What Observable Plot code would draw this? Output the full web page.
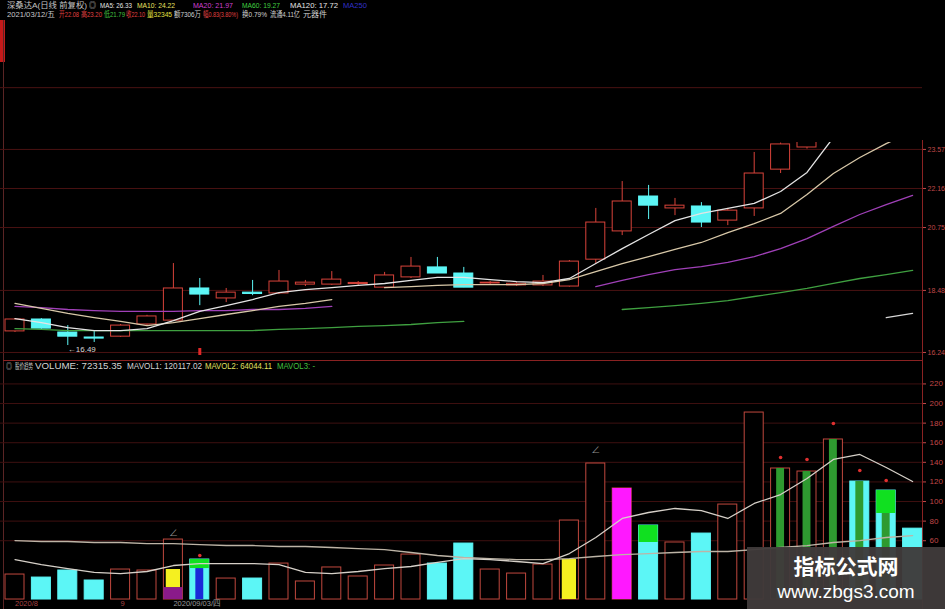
<!DOCTYPE html>
<html><head><meta charset="utf-8">
<script src="https://cdn.jsdelivr.net/npm/d3@7"></script>
<script src="https://cdn.jsdelivr.net/npm/@observablehq/plot@0.6"></script>
<style>
html,body{margin:0;padding:0;background:#000;}
#wrap{position:relative;width:945px;height:609px;overflow:hidden;background:#000;font-family:"Liberation Sans",Arial,"Noto Sans CJK SC",sans-serif;}
#wrap svg{position:absolute;left:0;top:0;overflow:visible;}
.t{position:absolute;white-space:nowrap;line-height:1;transform-origin:0 50%;}
.h1{font-size:7.5px;top:2px;}
.h2{font-size:7.5px;top:11px;}
.h3{font-size:8.5px;top:362px;}
.ln{position:absolute;}
#wm{position:absolute;left:747px;top:547px;width:198px;height:62px;background:rgba(64,58,58,0.96);color:#fff;text-align:center;z-index:10;font-family:"Noto Sans CJK SC","Liberation Sans",sans-serif;}
</style></head><body>
<div id="wrap">
  <div class="ln" style="left:0;top:20px;width:5px;height:42px;background:#c41a1a"></div>
  <div class="ln" style="left:3px;top:20px;width:1px;height:589px;background:#5a2424"></div>
  <div class="ln" style="left:922px;top:140px;width:1px;height:469px;background:#8a2222"></div>
  <div class="ln" style="left:3px;top:360px;width:920px;height:1px;background:#8a2222"></div>

  <span class="t h1" data-w="80" style="left:7px;color:#c4c4c4">深桑达A(日线 前复权)</span>
  <span class="t h1" data-w="7" style="left:89px;color:#c4c4c4">◎</span>
  <span class="t h1" data-w="32" style="left:100px;color:#e4e4e4">MA5: 26.33</span>
  <span class="t h1" data-w="38" style="left:137px;color:#e8e060">MA10: 24.22</span>
  <span class="t h1" data-w="40" style="left:193px;color:#d040d0">MA20: 21.97</span>
  <span class="t h1" data-w="38" style="left:242px;color:#40d040">MA60: 19.27</span>
  <span class="t h1" data-w="48" style="left:290px;color:#e4e4e4">MA120: 17.72</span>
  <span class="t h1" data-w="24" style="left:343px;color:#3030c8">MA250</span>

  <span class="t h2" data-w="48" style="left:7px;color:#c8c8c8">2021/03/12/五</span>
  <span class="t h2" data-w="20" style="left:59px;color:#e04040">开22.08</span>
  <span class="t h2" data-w="21" style="left:81px;color:#e04040">高23.20</span>
  <span class="t h2" data-w="21" style="left:104px;color:#40c040">低21.79</span>
  <span class="t h2" data-w="19" style="left:126px;color:#e04040">收22.10</span>
  <span class="t h2" data-w="25" style="left:147px;color:#e0e040">量32345</span>
  <span class="t h2" data-w="27" style="left:174px;color:#d0d0d0">额7306万</span>
  <span class="t h2" data-w="35" style="left:203px;color:#e04040">幅0.83(3.80%)</span>
  <span class="t h2" data-w="25" style="left:242px;color:#d0d0d0">换0.79%</span>
  <span class="t h2" data-w="30" style="left:270px;color:#d0d0d0">流通4.11亿</span>
  <span class="t h2" data-w="24" style="left:303px;color:#d0d0d0">元器件</span>

  <span class="t h3" data-w="6" style="left:6px;color:#c8c8c8">◎</span>
  <span class="t h3" data-w="18" style="left:15px;color:#c8c8c8">股价趋势</span>
  <span class="t h3" data-w="87" style="left:35px;color:#d4d4d4">VOLUME: 72315.35</span>
  <span class="t h3" data-w="75" style="left:127px;color:#d4d4d4">MAVOL1: 120117.02</span>
  <span class="t h3" data-w="67" style="left:205px;color:#e0e060">MAVOL2: 64044.11</span>
  <span class="t h3" data-w="38" style="left:277px;color:#40c040">MAVOL3: -</span>

  <div id="wm">
    <div style="font-size:21px;font-weight:bold;line-height:21px;margin-top:8px;">指标公式网</div>
    <div style="font-size:19px;line-height:19px;margin-top:6px;font-family:'Liberation Sans',Arial,sans-serif;">www.zbgs3.com</div>
  </div>
</div>
<script>
// ---------- data ----------
const opens  = [17.00,17.43,16.96,16.78,16.81,17.25,17.39,18.55,18.19,18.40,18.37,18.69,18.69,18.71,18.58,18.95,19.31,19.09,18.73,18.66,18.66,18.62,19.59,20.61,21.87,21.44,21.51,21.00,21.44,22.84,23.64,25.00,27.20,27.60,27.00];
const highs  = [17.46,17.46,17.21,17.03,17.25,17.58,19.45,18.91,18.55,18.84,19.20,18.84,19.16,18.80,19.13,19.67,19.67,19.31,18.80,18.76,19.02,19.56,21.44,22.41,22.27,21.80,21.65,21.44,23.46,23.80,25.20,27.10,27.80,28.00,27.30];
const lows   = [16.96,17.07,16.49,16.60,16.78,17.21,17.36,17.93,18.04,18.29,18.33,18.62,18.66,18.66,18.55,18.91,19.09,18.58,18.69,18.62,18.62,18.60,19.45,20.46,21.04,21.18,20.75,20.82,21.15,22.70,23.58,24.80,26.20,26.60,26.20];
const closes = [17.43,17.10,16.81,16.74,17.21,17.54,18.55,18.33,18.40,18.35,18.80,18.76,18.87,18.75,19.02,19.34,19.09,18.58,18.76,18.72,18.80,19.52,20.93,21.69,21.54,21.54,20.93,21.36,22.70,23.75,24.90,26.80,26.50,26.90,26.60];

const ma5   = [17.46,17.32,17.14,17.03,17.03,17.10,17.39,17.72,17.93,18.15,18.40,18.51,18.58,18.66,18.73,18.84,18.95,18.95,18.87,18.80,18.76,18.91,19.45,19.99,20.50,21.00,21.26,21.44,21.62,22.05,22.74,24.00,25.00,25.70,26.33];
const ma10  = [18.01,17.83,17.65,17.50,17.36,17.21,17.32,17.46,17.61,17.75,17.90,18.01,18.15,null,18.58,18.62,18.66,18.69,18.69,18.69,18.73,18.87,19.16,19.45,19.70,19.96,20.21,20.57,20.89,21.26,21.94,22.70,23.28,23.78,24.22];
const ma20  = [17.90,17.86,17.79,17.75,17.72,17.72,17.72,17.75,17.75,17.79,17.79,17.83,17.90,null,null,null,null,null,null,null,null,null,18.62,18.84,19.05,19.23,19.34,19.49,19.70,19.99,20.35,20.79,21.22,21.58,21.91];
const ma60  = [17.10,17.07,17.03,17.03,17.03,17.03,17.03,17.03,17.03,17.03,17.07,17.10,17.14,17.18,17.21,17.25,17.32,17.36,null,null,null,null,null,17.79,17.86,17.93,18.01,18.11,18.26,18.40,18.55,18.73,18.91,19.05,19.20];
const ma120 = [null,null,null,null,null,null,null,null,null,null,null,null,null,null,null,null,null,null,null,null,null,null,null,null,null,null,null,null,null,null,null,null,null,17.50,17.65];

const volumes = [25.5,22.4,29.6,19.4,30.6,29.6,61.2,40.8,21.4,21.4,36.7,18.4,32.7,23.5,34.7,45.9,36.7,57.1,30.6,26.5,35.7,80.6,138.8,113.3,75.5,58.2,67.3,96.9,190.8,133.7,130.6,163.3,120.4,111.2,72.3];
const mavol1 = [40.8,35.7,31.6,27.6,26.5,28.6,34.7,36.7,36.7,36.7,35.7,27.6,26.5,28.6,31.6,33.7,37.8,41.8,40.8,38.8,36.7,46.9,63.3,82.7,88.8,92.9,90.8,82.7,98.0,107.1,123.5,142.9,148.0,134.7,120.4];
const mavol2 = [60.2,59.2,59.2,58.2,58.2,57.1,57.1,56.1,55.1,55.1,54.1,54.1,53.1,52.0,51.0,48.0,44.9,42.9,41.8,40.8,40.8,41.8,43.9,45.9,46.9,48.0,49.0,49.0,51.0,53.1,55.1,58.2,60.2,63.3,65.3];

const yellowFills  = [{i:6, lo:12.2, hi:30.6}, {i:21, lo:0, hi:40.8}];
const purpleFills  = [{i:6, lo:0, hi:12.2}];
const magentaFills = [{i:23, lo:0, hi:113.3}];
const greenTops    = [{i:7, lo:31.6, hi:40.8}, {i:24, lo:58.2, hi:75.5}, {i:33, lo:87.8, hi:111.2}];
const blueInner    = [{i:7, lo:0, hi:31.6}];
const darkGreenInner = [{i:29, hi:133.7}, {i:30, hi:130.6}, {i:31, hi:163.3}, {i:32, hi:120.4}, {i:33, hi:87.8}];
const redDots  = [{i:7, v:44.9}, {i:29, v:144.9}, {i:30, v:142.9}, {i:31, v:179.6}, {i:32, v:131.6}, {i:33, v:121.4}];
const angleMarks = [{i:6, v:67.3}, {i:22, v:152}];
const lowMark = [{i:2, price:16.49}];
const cursorIndex = [7];

const priceTicks = [16.24, 18.48, 20.75, 22.16, 23.57];
const priceGrid  = [16.24, 18.48, 20.75, 22.16, 23.57, 25.80];
const volTicks   = [60, 80, 100, 120, 140, 160, 180, 200, 220];
const dateLabels = [{i:0, text:"2020/8", color:"#a84444"}, {i:4, text:"9", color:"#a84444"}, {i:6, text:"2020/09/03/四", color:"#9a9a9a"}];

// ---------- scales ----------
const xDomain = [-0.549, 34.375];
const priceDomain = [16.13, 23.82];
const volDomain = [-1.0, 228.6];

const RED = "#d8433a", CYAN = "#5cf6f6", VRED = "#c0483e";
const HW = 0.36;

const candles = opens.map((o, i) => ({i, open:o, high:highs[i], low:lows[i], close:closes[i], up: closes[i] >= o}));
const series = (arr) => arr.map((v, i) => ({i, v}));
const vols = volumes.map((v, i) => ({i, v, up: candles[i].up}));

const wrap = document.getElementById("wrap");
const font = "Liberation Sans, Arial, Noto Sans CJK SC, sans-serif";

const topChart = Plot.plot({
  width: 945, height: 609,
  marginTop: 142, marginBottom: 254, marginLeft: 0, marginRight: 23,
  style: {background: "transparent", color: "#c04848", fontSize: "7px", fontFamily: font},
  x: {type: "linear", domain: xDomain, axis: null},
  y: {domain: priceDomain, axis: "right", ticks: priceTicks, tickFormat: d => d.toFixed(2), tickSize: 3, tickPadding: 2, label: null},
  marks: [
    Plot.ruleY(priceGrid, {stroke: "#4a1212"}),
    Plot.ruleX(candles, {x: "i", y1: "low", y2: "high", stroke: d => d.up ? RED : CYAN, clip: true}),
    Plot.rect(candles, {x1: d => d.i - HW, x2: d => d.i + HW, y1: "open", y2: "close",
      fill: d => d.up ? "#000000" : CYAN, stroke: d => d.up ? RED : CYAN, clip: true}),
    Plot.line(series(ma60), {x: "i", y: "v", stroke: "#3fa040", strokeWidth: 1.3, clip: true}),
    Plot.line(series(ma20), {x: "i", y: "v", stroke: "#a040b8", strokeWidth: 1.3, clip: true}),
    Plot.line(series(ma120), {x: "i", y: "v", stroke: "#d8d8d8", strokeWidth: 1.2, clip: true}),
    Plot.line(series(ma10), {x: "i", y: "v", stroke: "#d8c8a8", strokeWidth: 1.3, clip: true}),
    Plot.line(series(ma5), {x: "i", y: "v", stroke: "#e4e4e4", strokeWidth: 1.3, clip: true}),
    Plot.text(lowMark, {x: "i", y: "price", text: d => "←" + d.price.toFixed(2), textAnchor: "start", dy: 4, fill: "#d8d8d8", fontSize: 8}),
    Plot.ruleX(cursorIndex, {stroke: "#e02828", strokeWidth: 3, insetTop: 206})
  ]
});

const botChart = Plot.plot({
  width: 945, height: 609,
  marginTop: 375, marginBottom: 9, marginLeft: 0, marginRight: 23,
  style: {background: "transparent", color: "#c04848", fontSize: "8px", fontFamily: font},
  x: {type: "linear", domain: xDomain, axis: null},
  y: {domain: volDomain, axis: "right", ticks: volTicks, tickFormat: d => String(d), tickSize: 3, tickPadding: 4, label: null},
  marks: [
    Plot.ruleY(volTicks, {stroke: "#3e1010"}),
    Plot.rect(vols, {x1: d => d.i - HW, x2: d => d.i + HW, y1: 0, y2: "v",
      fill: d => d.up ? "#000000" : CYAN, stroke: d => d.up ? VRED : CYAN}),
    Plot.rect(purpleFills, {x1: d => d.i - HW, x2: d => d.i + HW, y1: "lo", y2: "hi", fill: "#8a1a8a"}),
    Plot.rect(yellowFills, {x1: d => d.i - 0.27, x2: d => d.i + 0.27, y1: "lo", y2: "hi", fill: "#f5f020"}),
    Plot.rect(magentaFills, {x1: d => d.i - HW, x2: d => d.i + HW, y1: "lo", y2: "hi", fill: "#ff18ff"}),
    Plot.rect(blueInner, {x1: d => d.i - 0.15, x2: d => d.i + 0.15, y1: "lo", y2: "hi", fill: "#1a2ad8"}),
    Plot.rect(darkGreenInner, {x1: d => d.i - 0.15, x2: d => d.i + 0.15, y1: 0, y2: "hi", fill: "#2e9a30"}),
    Plot.rect(greenTops, {x1: d => d.i - HW, x2: d => d.i + HW, y1: "lo", y2: "hi", fill: "#10e020"}),
    Plot.line(series(mavol2), {x: "i", y: "v", stroke: "#bdb4a6", strokeWidth: 1.3}),
    Plot.line(series(mavol1), {x: "i", y: "v", stroke: "#d6d0c8", strokeWidth: 1.3}),
    Plot.dot(redDots, {x: "i", y: "v", r: 1.8, fill: "#e03030"}),
    Plot.text(angleMarks, {x: "i", y: "v", text: () => "∠", fill: "#909090", fontSize: 9}),
    Plot.text(dateLabels, {x: "i", frameAnchor: "bottom", dy: 5, text: "text", fill: "color", textAnchor: "start", fontSize: 7.5})
  ]
});

wrap.appendChild(topChart);
wrap.appendChild(botChart);

// fit header texts to the widths they occupy in the reference
document.querySelectorAll(".t[data-w]").forEach(el => {
  const target = +el.dataset.w;
  const w = el.getBoundingClientRect().width;
  if (w > 0) el.style.transform = `scaleX(${(target / w).toFixed(3)})`;
});
</script>
</body></html>
